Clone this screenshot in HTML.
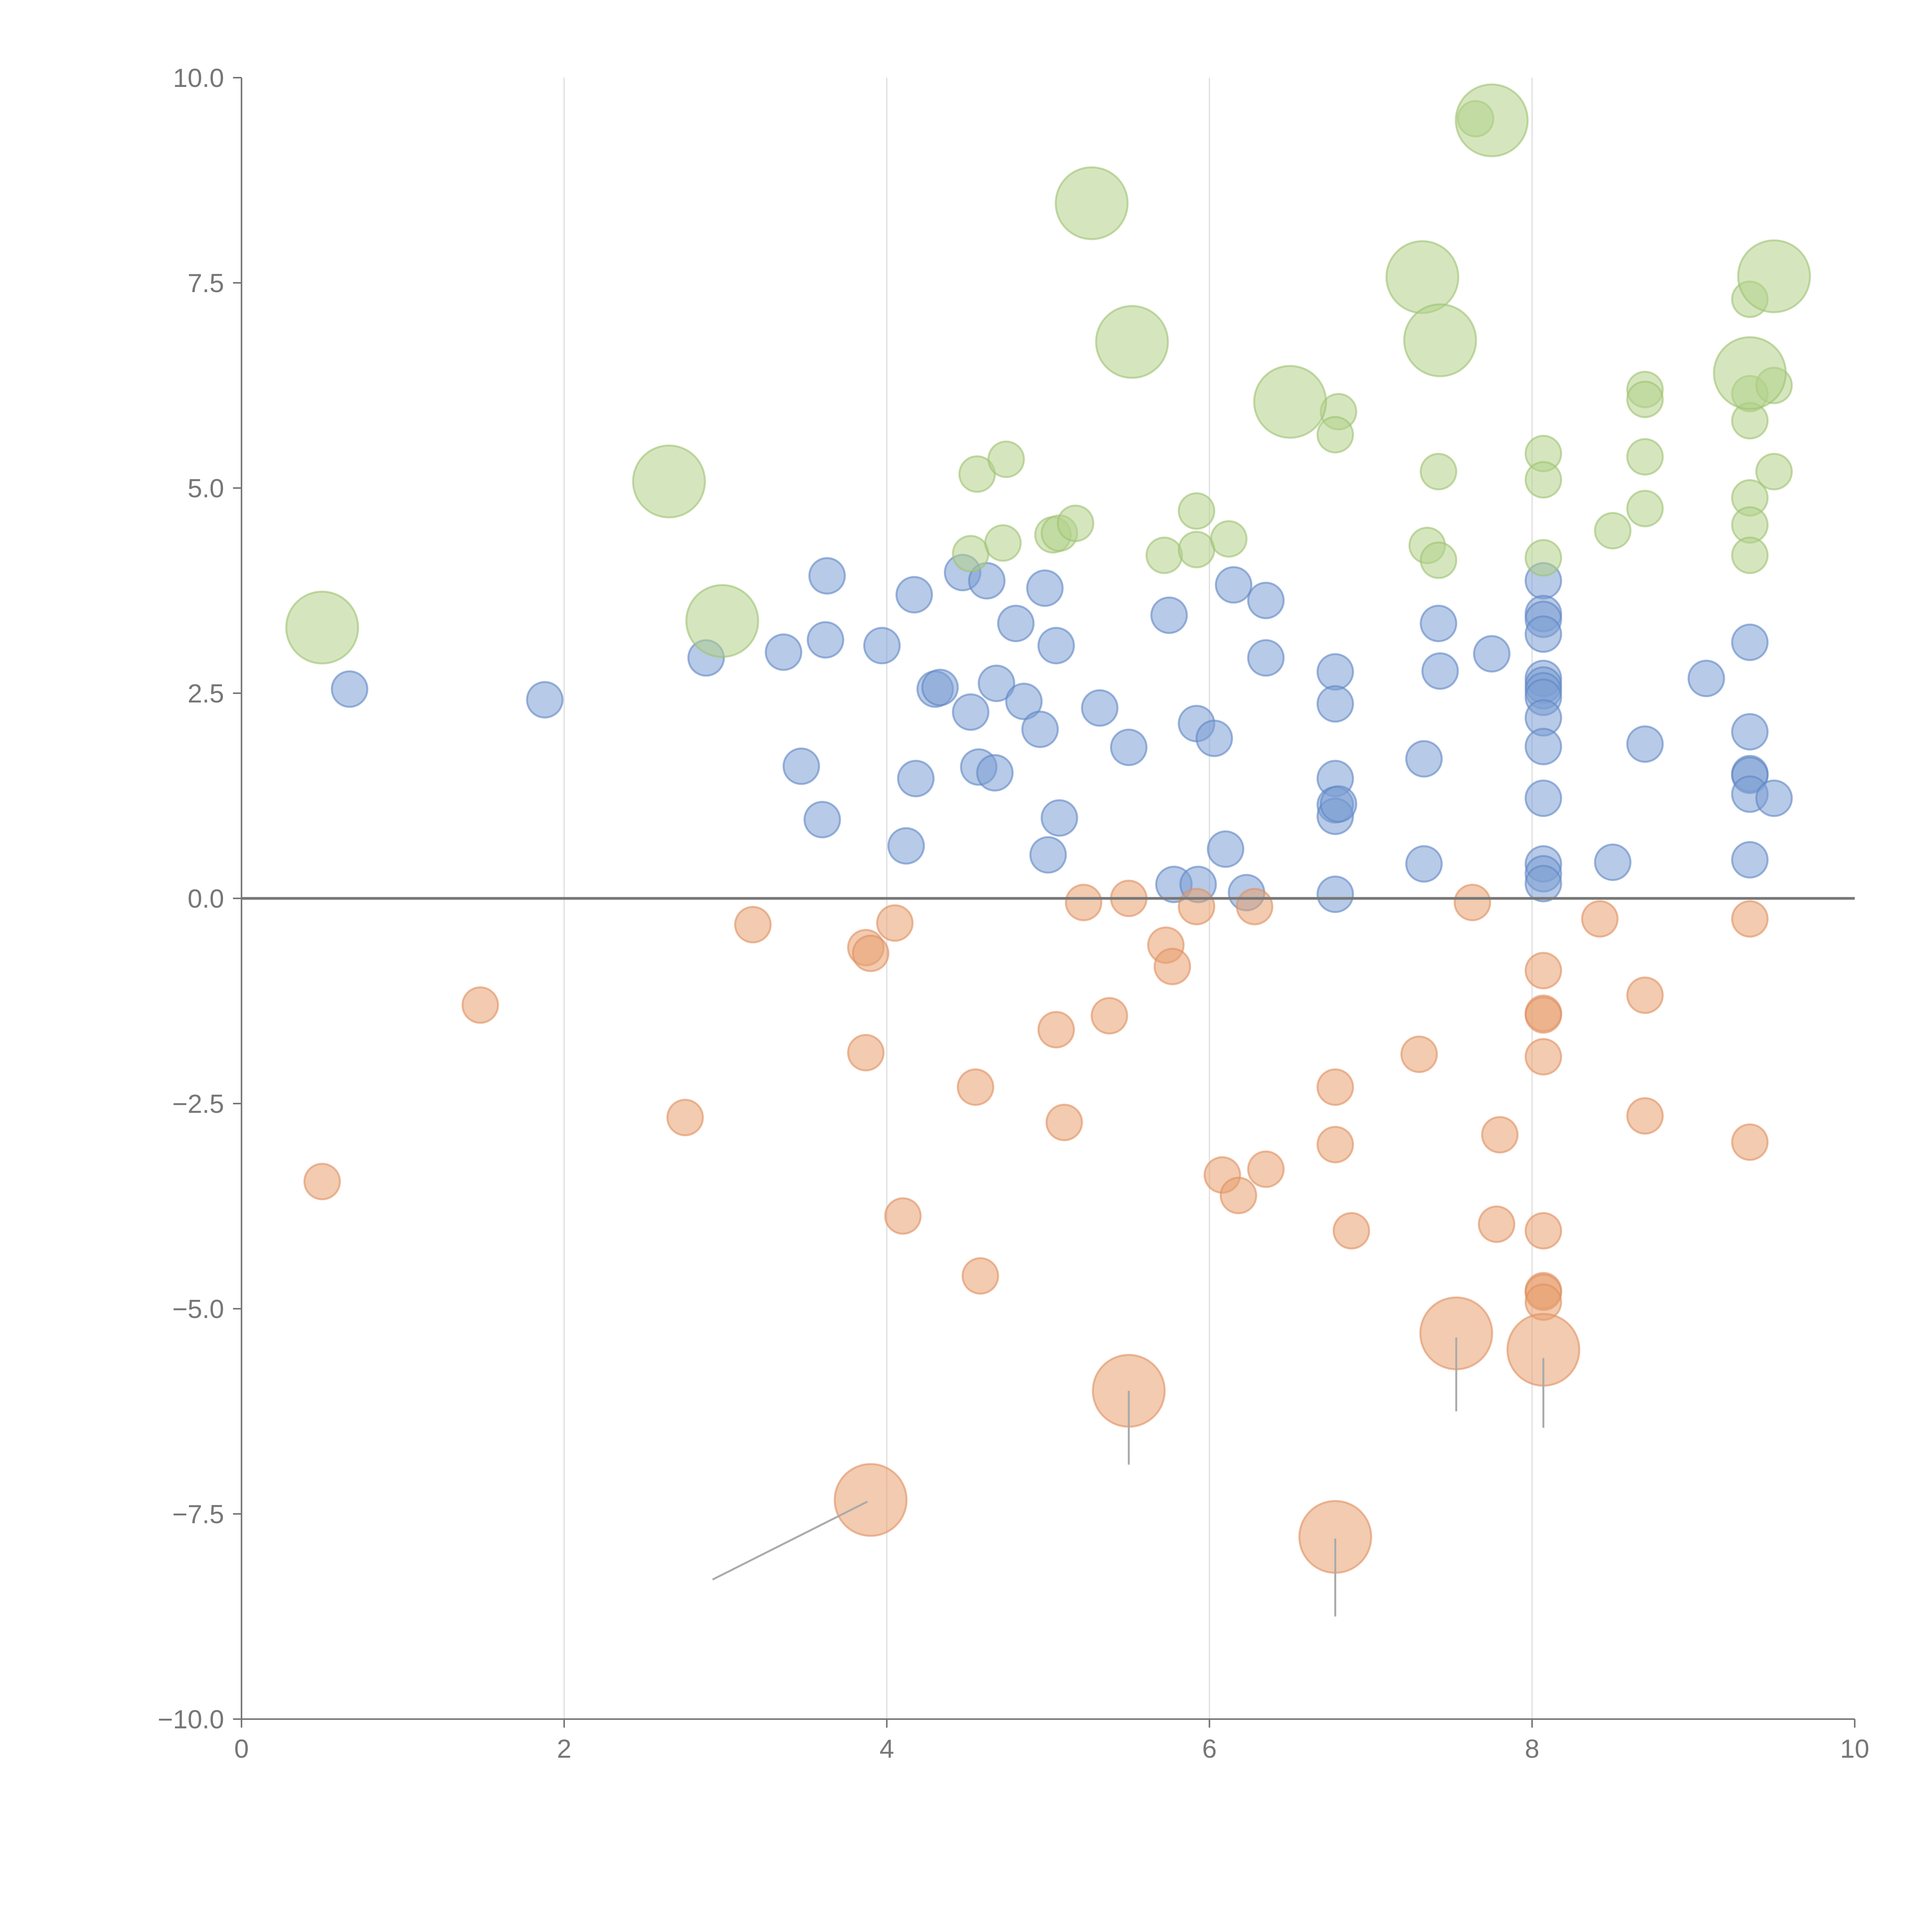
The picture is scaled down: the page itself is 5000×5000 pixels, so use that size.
<!DOCTYPE html>
<html><head><meta charset="utf-8"><style>
html,body{margin:0;padding:0;background:#fff;}
svg{display:block;font-family:"Liberation Sans",sans-serif;}
</style></head><body>
<svg id="chart" width="5000" height="5000" viewBox="0 0 5000 5000" xmlns="http://www.w3.org/2000/svg">
<g id="grid"></g>
<g id="marks"></g>
<g id="lines"></g>
<g id="axes"></g>
</svg>
<script>
const xTicks=[0,2,4,6,8,10];
const yTicks=[-10,-7.5,-5,-2.5,0,2.5,5,7.5,10];
const yTickLabels=["\u221210.0","\u22127.5","\u22125.0","\u22122.5","0.0","2.5","5.0","7.5","10.0"];
const greenX=[4.52,4.56,4.72,4.74,5.03,5.07,5.17,5.72,5.92,5.92,6.12,6.8,6.78,7.35,7.42,7.42,7.65,8.07,8.07,8.07,8.5,8.7,8.7,8.7,8.7,9.35,9.35,9.35,9.35,9.35,9.35,9.5,9.5];
const greenY=[4.2,5.17,4.33,5.35,4.43,4.45,4.57,4.18,4.72,4.25,4.38,5.93,5.65,4.3,5.2,4.12,9.5,5.42,5.1,4.15,4.48,6.2,6.08,5.38,4.75,7.3,6.15,5.82,4.88,4.55,4.18,6.25,5.2];
const greenBigX=[0.5,2.65,2.98,5.27,5.52,6.5,7.32,7.43,7.75,9.35,9.5];
const greenBigY=[3.3,5.08,3.38,8.47,6.78,6.05,7.57,6.8,9.48,6.4,7.58];
const blueX=[0.67,1.88,2.88,3.36,3.47,3.6,3.62,3.63,3.97,4.12,4.17,4.18,4.3,4.33,4.47,4.52,4.57,4.62,4.68,4.67,4.8,4.85,4.95,4.98,5.0,5.05,5.07,5.32,5.5,5.75,5.78,5.92,5.93,6.03,6.1,6.15,6.23,6.35,6.35,6.78,6.78,6.78,6.78,6.78,6.8,6.78,7.33,7.33,7.42,7.43,7.75,8.07,8.07,8.07,8.07,8.07,8.07,8.07,8.07,8.07,8.07,8.07,8.07,8.07,8.07,8.5,8.7,9.08,9.35,9.35,9.35,9.35,9.35,9.35,9.5];
const blueY=[2.55,2.42,2.93,3.0,1.61,0.96,3.15,3.93,3.08,0.64,3.7,1.46,2.55,2.57,3.97,2.27,1.6,3.87,2.62,1.53,3.35,2.4,2.06,3.78,0.53,3.08,0.98,2.32,1.84,3.45,0.17,2.13,0.17,1.95,0.6,3.82,0.07,3.63,2.93,2.76,2.37,1.46,1.14,1.0,1.15,0.05,1.7,0.42,3.35,2.77,2.98,3.87,3.47,3.4,3.22,2.68,2.6,2.53,2.45,2.2,1.85,1.22,0.42,0.3,0.18,0.44,1.88,2.68,3.12,2.03,1.52,1.5,1.27,0.47,1.22];
const orangeX=[0.5,1.48,2.75,3.17,3.87,3.9,3.87,4.05,4.1,4.55,4.58,5.05,5.1,5.22,5.38,5.5,5.73,5.77,5.92,6.08,6.18,6.28,6.35,6.78,6.78,6.88,7.3,7.63,7.78,7.8,8.07,8.07,8.07,8.07,8.07,8.07,8.07,8.07,8.42,8.7,8.7,9.35,9.35];
const orangeY=[-3.45,-1.3,-2.67,-0.32,-0.6,-0.67,-1.88,-0.3,-3.87,-2.3,-4.6,-1.6,-2.73,-0.05,-1.43,0,-0.57,-0.83,-0.1,-3.37,-3.62,-0.1,-3.3,-2.3,-3.0,-4.05,-1.9,-0.05,-3.97,-2.88,-0.88,-1.4,-1.42,-1.93,-4.05,-4.78,-4.8,-4.92,-0.25,-1.18,-2.65,-0.25,-2.97];
const orangeBigX=[3.9,5.5,6.78,7.53,8.07];
const orangeBigY=[-7.33,-6.0,-7.78,-5.3,-5.5];
const leaderX1=[3.88,5.5,6.78,7.53,8.07];
const leaderY1=[-7.35,-6.0,-7.8,-5.35,-5.6];
const leaderX2=[2.92,5.5,6.78,7.53,8.07];
const leaderY2=[-8.3,-6.9,-8.75,-6.25,-6.45];

const X0=625,X1=4800,Y0=4449,Y1=201;
const sx=v=>X0+(v-0)/(10-0)*(X1-X0);
const sy=v=>Y0-(v+10)/20*(Y0-Y1);
const NS="http://www.w3.org/2000/svg";
function mk(tag,parent,attrs){const e=document.createElementNS(NS,tag);for(const k in attrs)e.setAttribute(k,attrs[k]);parent.appendChild(e);return e;}
const grid=document.getElementById('grid'),lines=document.getElementById('lines'),marks=document.getElementById('marks'),axes=document.getElementById('axes');

xTicks.forEach(t=>{if(t>0&&t<10){const l=mk('line',grid,{x1:sx(t),x2:sx(t),y1:Y1,y2:Y0,stroke:'#dddddd','stroke-width':3});

}});

function series(xs,ys,r,fill,stroke,name){xs.forEach((x,i)=>{const c=mk('circle',marks,{cx:sx(x),cy:sy(ys[i]),r:r,fill:fill,'fill-opacity':0.55,stroke:stroke,'stroke-opacity':0.6,'stroke-width':5});

});}
series(blueX,blueY,46,'#7c9fd3','#5f86c4','blue-bubble');
series(orangeX,orangeY,46,'#e8a070','#e09060','orange-bubble');
series(greenX,greenY,46,'#b3d18a','#9fc272','green-bubble');
series(greenBigX,greenBigY,93,'#b3d18a','#9fc272','green-large-bubble');
series(orangeBigX,orangeBigY,93,'#e8a070','#e09060','orange-large-bubble');

leaderX1.forEach((x,i)=>{const l=mk('line',lines,{x1:sx(x),y1:sy(leaderY1[i]),x2:sx(leaderX2[i]),y2:sy(leaderY2[i]),stroke:'#aaaaaa','stroke-width':5});

});

const z=mk('line',axes,{x1:X0,x2:X1,y1:sy(0),y2:sy(0),stroke:'#777','stroke-width':7});


const ya=mk('line',axes,{x1:X0,x2:X0,y1:Y1,y2:Y0,stroke:'#777','stroke-width':4});


const xa=mk('line',axes,{x1:X0,x2:X1,y1:Y0,y2:Y0,stroke:'#777','stroke-width':4});


xTicks.forEach(t=>{mk('line',axes,{x1:sx(t),x2:sx(t),y1:Y0,y2:Y0+22,stroke:'#777','stroke-width':4});
const tx=mk('text',axes,{x:sx(t),y:Y0+100,'text-anchor':'middle','font-size':68,fill:'#777'});tx.textContent=t;

});
yTicks.forEach((t,i)=>{mk('line',axes,{x1:X0-22,x2:X0,y1:sy(t),y2:sy(t),stroke:'#777','stroke-width':4});
const tx=mk('text',axes,{x:X0-45,y:sy(t)+24,'text-anchor':'end','font-size':68,fill:'#777'});tx.textContent=yTickLabels[i];

});
</script>
</body></html>
